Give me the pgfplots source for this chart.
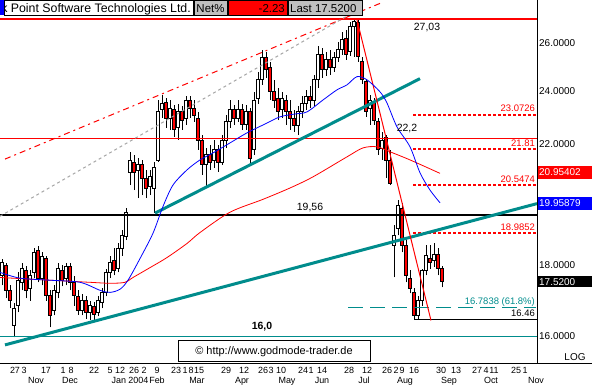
\documentclass[border=0pt]{standalone}
\usepackage{pgfplots}
\pgfplotsset{compat=1.18}
\usepackage{pgfplotstable}
\usepackage{fontspec}
\setmainfont{Liberation Sans}
\definecolor{tealc}{RGB}{0,140,140}
\definecolor{hdrgray}{RGB}{192,192,192}
\definecolor{grayd}{RGB}{165,165,165}
\definecolor{fibred}{RGB}{255,0,0}

\pgfplotstableread{
x o h l c
2 17.70 18.20 17.41 18.08
6 17.99 18.08 17.04 17.27
10 17.27 17.41 16.76 16.98
14 16.30 16.90 15.98 16.76
18 16.84 17.79 16.65 17.56
22 17.50 18.08 17.27 17.90
26 17.85 17.99 17.04 17.27
30 17.33 17.85 16.98 17.70
34 17.79 18.51 17.62 18.39
38 18.45 18.57 17.50 17.62
42 17.62 18.39 17.41 18.26
46 18.20 18.29 16.98 17.13
50 17.13 17.27 16.24 16.57
54 16.70 17.41 16.57 17.27
58 17.21 18.08 17.04 17.90
62 17.85 18.02 17.38 17.56
66 17.62 18.08 17.41 17.96
70 17.96 18.08 17.27 17.50
74 17.50 17.67 16.84 17.13
78 17.10 17.27 16.59 16.70
82 16.70 17.16 16.57 16.98
86 16.98 17.10 16.48 16.65
90 16.65 16.98 16.43 16.84
94 16.81 16.93 16.43 16.59
98 16.65 17.10 16.54 16.98
102 16.93 17.33 16.76 17.21
106 17.21 17.90 17.10 17.79
110 17.79 18.29 17.62 18.08
114 18.14 18.51 17.70 17.85
118 17.90 18.66 17.79 18.51
122 18.51 19.07 18.29 18.91
126 18.88 19.78 18.76 19.65
130 21.00 21.71 20.55 21.42
134 21.35 21.60 20.38 21.00
138 21.07 21.49 20.11 21.25
142 21.25 21.42 20.21 20.79
146 20.79 21.07 20.11 20.45
150 20.52 21.07 20.21 20.86
154 20.45 21.35 19.62 21.14
158 21.42 23.65 21.35 23.19
162 23.27 23.85 22.96 23.53
166 23.57 23.73 22.59 22.96
170 22.96 23.65 22.51 23.34
174 23.27 23.46 22.25 22.51
178 22.59 23.50 22.14 23.19
182 23.19 23.42 22.51 22.88
186 22.96 23.81 22.70 23.65
190 23.65 23.81 22.96 23.34
194 23.34 23.65 22.81 23.04
198 22.96 23.19 21.78 22.14
202 22.14 22.33 20.90 21.25
206 21.25 21.85 20.48 21.60
210 21.60 21.96 21.07 21.35
214 21.42 22.14 21.14 21.78
218 21.78 21.96 21.00 21.35
222 21.35 22.33 21.25 22.14
226 22.14 23.07 21.85 22.81
230 22.81 23.65 22.59 23.27
234 23.27 23.46 22.70 22.96
238 22.96 23.65 22.81 23.27
242 23.27 23.50 22.51 22.73
246 22.73 23.46 22.51 23.19
250 23.19 23.34 21.25 21.49
254 21.78 23.97 21.60 23.65
258 23.73 24.78 23.50 24.45
262 24.45 25.70 24.25 25.36
266 25.36 25.61 24.54 24.87
270 24.95 25.19 23.65 23.97
274 23.97 24.45 23.34 23.65
278 23.73 24.13 22.88 23.19
282 23.27 23.97 22.96 23.73
286 23.65 23.85 22.70 23.19
290 23.19 23.65 22.51 22.96
294 22.96 23.27 22.44 22.66
298 22.66 23.42 22.33 23.19
302 23.19 23.81 22.96 23.50
306 23.50 24.05 23.27 23.81
310 23.81 24.21 23.34 23.65
314 23.65 24.66 23.42 24.45
318 24.45 25.87 24.13 25.48
322 25.48 25.78 24.54 24.87
326 24.87 25.61 24.62 25.27
330 25.27 25.70 24.66 24.95
334 24.95 25.61 24.78 25.36
338 25.36 26.04 25.19 25.70
342 25.70 26.47 25.48 26.12
346 26.20 26.56 25.27 25.48
350 25.61 26.90 25.44 26.70
354 26.70 27.03 25.40 26.95
358 26.90 27.00 25.20 25.40
362 25.20 25.40 24.30 24.45
366 24.40 24.50 23.00 23.20
370 23.34 23.85 22.70 23.65
374 23.57 23.73 22.70 22.88
378 22.81 22.96 21.60 21.78
382 21.85 22.44 21.42 22.14
386 22.22 22.33 20.79 21.42
390 21.42 21.78 20.55 20.62
394 18.60 19.23 17.64 18.91
398 19.13 20.04 18.91 19.88
402 19.78 19.94 18.39 18.60
406 18.60 18.76 17.50 17.70
410 17.62 17.85 17.18 17.33
414 17.21 17.33 16.46 16.57
418 16.57 17.10 16.46 16.98
422 16.98 17.90 16.84 17.85
426 17.85 18.60 17.70 18.29
430 18.20 18.60 17.90 18.08
434 18.14 18.66 17.96 18.33
438 18.33 18.51 17.70 17.90
442 17.90 17.99 17.35 17.52
}\candles

\begin{document}
\begin{tikzpicture}[x=1bp,y=1bp]
\path[use as bounding box] (0bp,0bp) rectangle (592bp,386bp);
\begin{axis}[
  at={(0bp,22bp)}, anchor=south west,
  width=537bp, height=364bp, scale only axis,
  xmin=0, xmax=537, ymode=log, ymin=15.29, ymax=27.90,
  axis line style={draw=none},
  tick style={draw=none},
  major tick length=0pt,
  xtick={15,24,46,63,71,94,110,120,134,144,157,176,185,191,199,226,244,263,271,281,303,311,322,349,367,387,396,402,414,441,456,477,486,494,516,525},
  xticklabels={27,3,17,1,8,22,5,12,26,2,9,23,1,8,15,29,12,26,3,10,24,1,14,28,12,26,2,9,16,30,13,27,4,11,25,1},
  xticklabel style={font=\fontsize{9}{9}\selectfont, anchor=base, yshift=-10bp, inner sep=0pt},
  ytick={16,18,22,24,26},
  yticklabels={16.0000,18.0000,22.0000,24.0000,26.0000},
  yticklabel pos=right,
  yticklabel style={font=\fontsize{10}{10}\selectfont, anchor=west, inner sep=0pt, xshift=2bp},
  clip=true,
]
% candles
\pgfplotstablegetrowsof{\candles}
\pgfmathtruncatemacro\lastrow{\pgfplotsretval-1}
\pgfplotsforeachungrouped \i in {0,...,\lastrow}{%
  \pgfplotstablegetelem{\i}{x}\of\candles \let\cx\pgfplotsretval
  \pgfplotstablegetelem{\i}{o}\of\candles \let\co\pgfplotsretval
  \pgfplotstablegetelem{\i}{h}\of\candles \let\ch\pgfplotsretval
  \pgfplotstablegetelem{\i}{l}\of\candles \let\cl\pgfplotsretval
  \pgfplotstablegetelem{\i}{c}\of\candles \let\cc\pgfplotsretval
  \pgfmathtruncatemacro\isdown{\cc<\co ? 1 : 0}%
  \ifnum\isdown=1 \def\cfill{red}\else\def\cfill{white}\fi
  \pgfmathsetmacro\cbot{min(\co,\cc)}%
  \pgfmathsetmacro\ctop{max(\co,\cc)}%
  \pgfmathsetmacro\xl{\cx-1.8}%
  \pgfmathsetmacro\xr{\cx+1.8}%
  \edef\doit{%
    \noexpand\addplot[forget plot, black, line width=0.8bp] coordinates {(\cx,\cl) (\cx,\ch)};
    \noexpand\addplot[forget plot, draw=black, fill=\cfill, line width=0.8bp] coordinates {(\xl,\cbot) (\xr,\cbot) (\xr,\ctop) (\xl,\ctop)} --cycle;
  }%
  \doit
}
% horizontal levels
\addplot[red, line width=2bp] coordinates {(0,27.03) (537,27.03)};
\addplot[red, line width=1bp] coordinates {(0,22.2) (537,22.2)};
\addplot[black, line width=2bp] coordinates {(0,19.56) (537,19.56)};
\addplot[tealc, line width=1bp] coordinates {(0,16.0) (537,16.0)};
% fibonacci levels
\addplot[draw=fibred, line width=1.3bp, dash pattern=on 3bp off 2bp] coordinates {(413,23.0726) (536,23.0726)};
\addplot[draw=fibred, line width=1.3bp, dash pattern=on 3bp off 2bp] coordinates {(413,21.81) (536,21.81)};
\addplot[draw=fibred, line width=1.3bp, dash pattern=on 3bp off 2bp] coordinates {(413,20.5474) (536,20.5474)};
\addplot[draw=fibred, line width=1.3bp, dash pattern=on 3bp off 2bp] coordinates {(413,18.9852) (536,18.9852)};
\addplot[draw=tealc, line width=1.3bp, dash pattern=on 15bp off 7bp] coordinates {(348,16.7838) (536,16.7838)};
\addplot[black, line width=1bp] coordinates {(414,16.46) (537,16.46)};
% channel lines
\addplot[red, line width=1bp, dash pattern=on 6bp off 4bp on 2bp off 4bp] coordinates {(5,21.45) (383,27.8)};
\addplot[grayd, line width=1bp, dash pattern=on 3bp off 3bp] coordinates {(0,19.52) (352,27.3)};
\addplot[tealc, line width=3bp] coordinates {(5,15.78) (537,19.93)};
\addplot[tealc, line width=3bp] coordinates {(155,19.62) (420,24.50)};
\addplot[red, line width=1bp] coordinates {(357,27.0) (431,16.43)};
% moving averages
\addplot[red, line width=0.8bp, smooth] coordinates {
(0,17.64) (50,17.56) (90,17.50) (110,17.47) (125,17.50) (133,17.64) (150,17.93) (167,18.23)
(187,18.66) (200,19.00) (230,19.65) (263,20.07) (290,20.45) (313,20.83) (347,21.53) (363,21.85)
(377,21.89) (390,21.71) (410,21.42) (440,20.95)};
\addplot[blue, line width=0.8bp, smooth] coordinates {
(0,17.79) (20,17.62) (50,17.56) (80,17.50) (100,17.27) (110,17.21) (120,17.30) (128,17.56)
(140,18.20) (153,18.98) (163,19.84) (173,20.55) (187,21.07) (200,21.42) (213,21.67) (230,22.03)
(247,22.40) (265,22.73) (280,23.00) (295,23.11) (307,23.19) (323,23.65) (337,24.05) (347,24.25)
(357,24.58) (367,24.45) (380,23.97) (387,23.53) (397,22.62) (410,21.89) (420,20.97) (430,20.38) (440,19.96)};
% level labels
\node[font=\fontsize{10.5}{10.5}\selectfont] at (axis cs:427,26.64) {27,03};
\node[font=\fontsize{10.5}{10.5}\selectfont] at (axis cs:407,22.55) {22,2};
\node[font=\fontsize{10.5}{10.5}\selectfont] at (axis cs:310,19.79) {19,56};
\node[font=\bfseries\fontsize{10.5}{10.5}\selectfont] at (axis cs:262,16.26) {16,0};
\node[red, anchor=east, inner sep=1bp, font=\fontsize{9.5}{9.5}\selectfont] at (axis cs:536,23.34) {23.0726};
\node[red, anchor=east, inner sep=1bp, font=\fontsize{9.5}{9.5}\selectfont] at (axis cs:536,22.03) {21.81};
\node[red, anchor=east, inner sep=1bp, font=\fontsize{9.5}{9.5}\selectfont] at (axis cs:536,20.76) {20.5474};
\node[red, anchor=east, inner sep=1bp, font=\fontsize{9.5}{9.5}\selectfont] at (axis cs:536,19.18) {18.9852};
\node[tealc, anchor=east, inner sep=1bp, font=\fontsize{9.5}{9.5}\selectfont] at (axis cs:536,16.94) {16.7838 (61.8\%)};
\node[black, anchor=east, inner sep=1bp, font=\fontsize{9.5}{9.5}\selectfont] at (axis cs:536,16.62) {16.46};
\end{axis}
% frame
\draw[black, line width=1bp] (0,22) -- (592,22);
\draw[black, line width=1bp] (537,22) -- (537,386);
% month labels
\foreach \mx/\mt in {36/Nov,70/Dec,157/Feb,130/Jan 2004,197/Mar,242/Apr,287/May,322/Jun,364/Jul,405/Aug,449/Sep,491/Oct,536/Nov}{
  \node[anchor=base, inner sep=0pt, font=\fontsize{9}{9}\selectfont] at (\mx,3) {\mt};
}
% header
\fill[blue] (0,371) rectangle (4,386);
\fill[white] (4,371) rectangle (193,386);
\begin{scope}
\clip (4,371) rectangle (193,386);
\node[anchor=base east, inner sep=0pt, font=\fontsize{12.4}{12.4}\selectfont] at (191,374) {Check Point Software Technologies Ltd.};
\end{scope}
\draw[black, line width=0.8bp] (4,371) rectangle (193,386);
\filldraw[fill=hdrgray, draw=black, line width=0.6bp] (194,371) rectangle (227,386);
\node[anchor=base, inner sep=0pt, font=\fontsize{11.5}{11.5}\selectfont] at (210.5,374) {Net\%};
\filldraw[fill=red, draw=black, line width=0.6bp] (228,371) rectangle (287,386);
\node[anchor=base east, inner sep=0pt, font=\fontsize{11.5}{11.5}\selectfont] at (285,374) {-2.23};
\filldraw[fill=hdrgray, draw=black, line width=0.6bp] (288,371) rectangle (362,386);
\node[anchor=base west, inner sep=0pt, font=\fontsize{11.5}{11.5}\selectfont] at (290,374) {Last 17.5200};
% right tags
\fill[red] (537.5,207) rectangle (592,220.3);
\node[white, anchor=west, inner sep=0pt, font=\fontsize{10}{10}\selectfont] at (539,213.7) {20.95402};
\fill[blue] (537.5,176) rectangle (592,189.3);
\node[white, anchor=west, inner sep=0pt, font=\fontsize{10}{10}\selectfont] at (539,182.7) {19.95879};
\fill[black] (537.5,98.7) rectangle (592,110);
\node[white, anchor=west, inner sep=0pt, font=\fontsize{10}{10}\selectfont] at (539,104.4) {17.5200};
\node[font=\fontsize{10}{10}\selectfont] at (575,29) {LOG};
% copyright box
\filldraw[fill=white, draw=black, line width=1bp] (178,24) rectangle (370,45);
\node[font=\fontsize{11}{11}\selectfont] at (274,34.5) {© http://www.godmode-trader.de};
\end{tikzpicture}
\end{document}
